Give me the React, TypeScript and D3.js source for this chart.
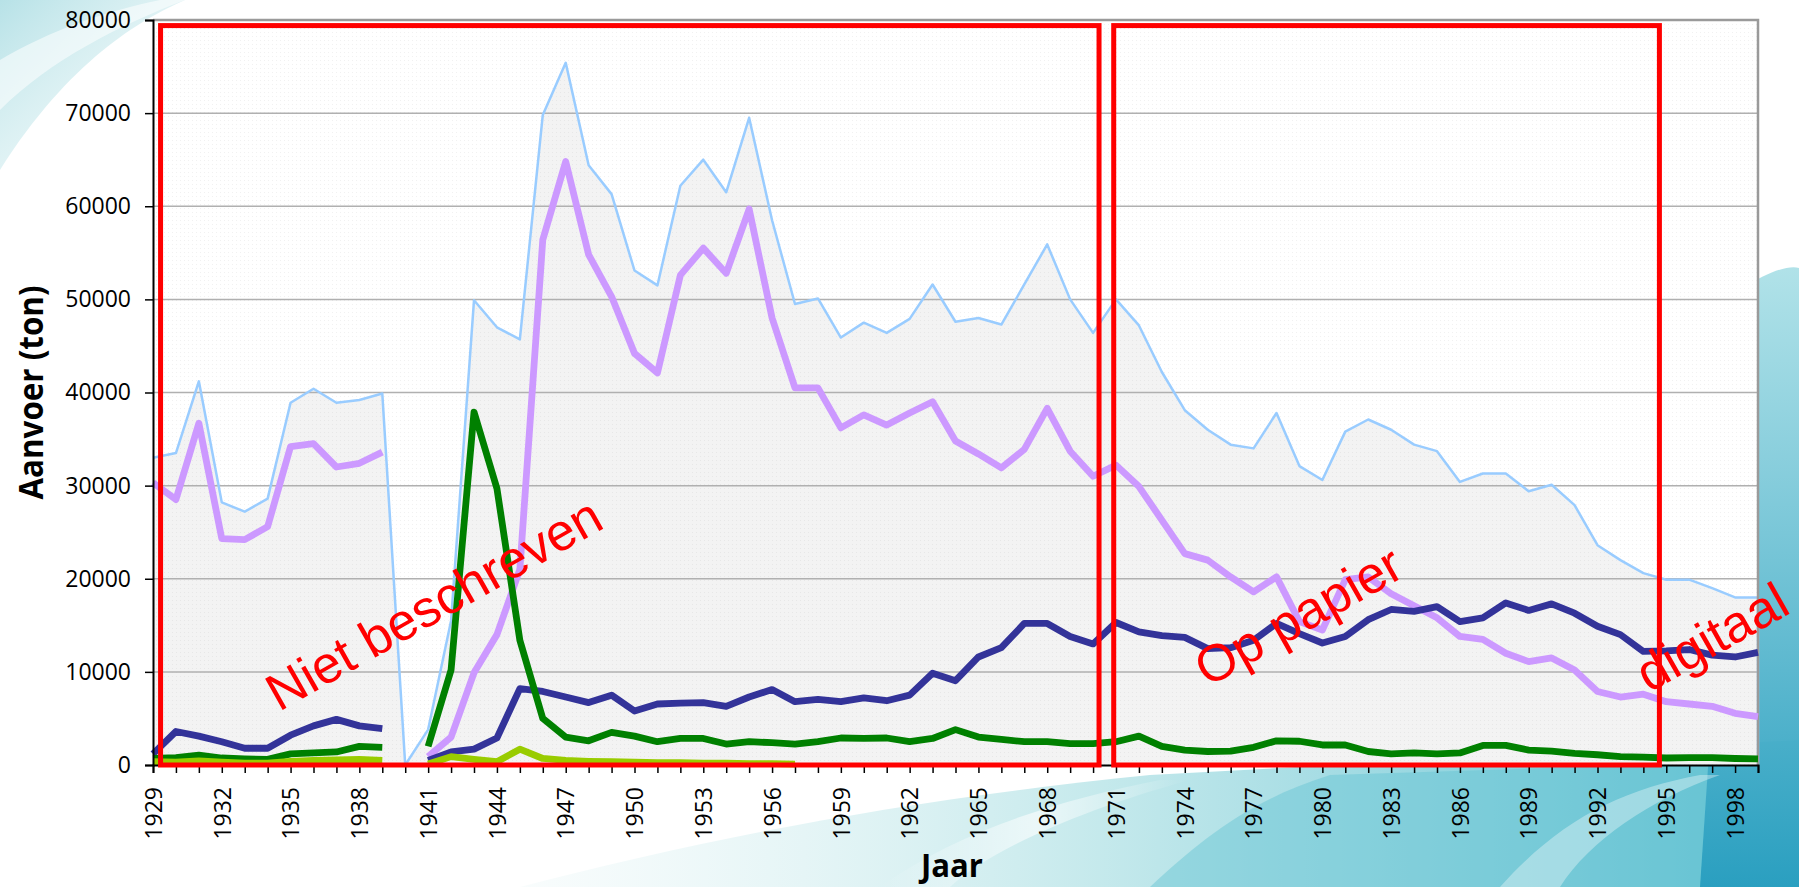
import React, { useEffect, useRef } from "react";
import * as d3 from "d3";

// Aanvoer per jaar (ton), 1929 - 1999. 1940 ontbreekt.
const firstYear = 1929;
const lastYear = 1999;
const years = d3.range(firstYear, lastYear + 1);

const totaal = [
  33000, 33500, 41200, 28200, 27200, 28600, 38900, 40400, 38900, 39200, 39900,
  0, 3800, 15500, 49900, 47000, 45700, 69800, 75400, 64400, 61300,
  53100, 51500, 62200, 65000, 61500, 69500, 58500, 49500, 50100, 45900,
  47500, 46400, 47900, 51600, 47600, 48000, 47300, 51600, 55900, 50000,
  46400, 50000, 47200, 42200, 38100, 36000, 34400, 34000, 37800, 32100,
  30600, 35800, 37100, 36000, 34400, 33700, 30400, 31300, 31300, 29400,
  30100, 27900, 23600, 22000, 20600, 19900, 19900, 19000, 18000, 18000,
];

const paars = [
  30300, 28500, 36700, 24300, 24200, 25600, 34200, 34500, 32000, 32400, 33600,
  null, 900, 3000, 9900, 14000, 21000, 56400, 64800, 54800, 50300,
  44200, 42100, 52600, 55500, 52800, 59700, 48000, 40500, 40500, 36200,
  37600, 36500, 37800, 39000, 34800, 33400, 31900, 33900, 38300, 33700,
  31000, 32200, 29900, 26300, 22700, 22000, 20200, 18600, 20200, 15400,
  14500, 19900, 20200, 18400, 17100, 15800, 13800, 13500, 12000, 11100,
  11500, 10200, 7900, 7300, 7600, 6800, 6550, 6300, 5550, 5200,
];

const donkerblauw = [
  1200, 3600, 3100, 2500, 1800, 1800, 3200, 4200, 4900, 4200, 3900,
  null, 500, 1400, 1700, 2900, 8200, 7900, 7300, 6700, 7500,
  5800, 6550, 6650, 6700, 6300, 7300, 8100, 6800, 7050, 6800,
  7200, 6900, 7500, 9850, 9050, 11600, 12600, 15200, 15200, 13800,
  13000, 15300, 14300, 13900, 13700, 12500, 12600, 13400, 15200, 14100,
  13100, 13800, 15600, 16700, 16500, 17000, 15400, 15800, 17400, 16600,
  17300, 16300, 14900, 14000, 12200, 12250, 12400, 11800, 11600, 12100,
];

const groen = [
  700, 800, 1050, 750, 650, 600, 1200, 1300, 1400, 2000, 1900,
  null, 2000, 10200, 37900, 29700, 13400, 5000, 3000, 2600, 3500,
  3100, 2500, 2850, 2850, 2250, 2500, 2400, 2250, 2500, 2900,
  2850, 2900, 2500, 2850, 3800, 3000, 2750, 2500, 2500, 2300,
  2300, 2500, 3100, 2000, 1600, 1450, 1500, 1900, 2600, 2550,
  2150, 2150, 1450, 1200, 1300, 1200, 1300, 2100, 2100, 1600,
  1500, 1250, 1100, 900, 850, 750, 800, 800, 700, 650,
];

const geelgroen = [
  350, 300, 450, 300, 200, 200, 400, 500, 550, 600, 500,
  null, 100, 900, 600, 350, 1700, 700, 500, 400, 350,
  300, 250, 250, 200, 200, 150, 150, 100, null, null,
  null, null, null, null, null, null, null, null, null, null,
  null, null, null, null, null, null, null, null, null, null,
  null, null, null, null, null, null, null, null, null, null,
  null, null, null, null, null, null, null, null, null, null,
];

const yTicks = [0, 10000, 20000, 30000, 40000, 50000, 60000, 70000, 80000];

// periodes met rode kaders: [van, tot]
const periodes: [number, number][] = [
  [1929.33, 1970.26],
  [1970.9, 1994.7],
];

// labels: [tekst, jaar, waarde] van het beginpunt
const labels: [string, number, number][] = [
  ["Niet beschreven", 1934.5, 5700],
  ["Op papier", 1975.0, 8300],
  ["digitaal", 1994.25, 7700],
];

const W = 1799;
const H = 887;
const margin = { top: 20, right: 41, bottom: 122, left: 153 };

const lines = [
  { values: paars, color: "#cc99ff" },
  { values: donkerblauw, color: "#333399" },
  { values: groen, color: "#008000" },
  { values: geelgroen, color: "#99cc00" },
];

export default function App() {
  const ref = useRef<SVGSVGElement>(null);

  useEffect(() => {
    const svg = d3.select(ref.current);
    svg.selectAll("*").remove();

    const x = d3.scaleLinear().domain([firstYear, lastYear]).range([margin.left, W - margin.right]);
    const y = d3.scaleLinear().domain([0, 80000]).range([H - margin.bottom, margin.top]);
    const [x0, x1] = x.range();
    const [y0, y1] = y.range();

    const defs = svg.append("defs");
    const dots = (id, bg, dot) => {
      const p = defs.append("pattern").attr("id", id).attr("width", 4).attr("height", 4)
        .attr("patternUnits", "userSpaceOnUse");
      p.append("rect").attr("width", 4).attr("height", 4).attr("fill", bg);
      p.append("rect").attr("width", 1).attr("height", 1).attr("fill", dot);
    };
    dots("bgdots", "#ffffff", "#f1f1f1");
    dots("areadots", "#f3f3f3", "#e7e7e7");

    const grad = (id, stops, x2 = "100%", y2 = "0%") => {
      const g = defs.append("linearGradient").attr("id", id)
        .attr("x1", "0%").attr("y1", "0%").attr("x2", x2).attr("y2", y2);
      stops.forEach(([o, c, op]) => g.append("stop").attr("offset", o).attr("stop-color", c).attr("stop-opacity", op));
    };
    grad("tl", [["0%", "#9fd8df", 0.75], ["100%", "#e6f5f6", 0.25]], "100%", "100%");
    grad("bottom", [["0%", "#dff2f3", 0.2], ["45%", "#bfe7ea", 0.9], ["100%", "#5fc0d2", 1]]);
    grad("right", [["0%", "#a8dfe6", 0.9], ["100%", "#2a9fc0", 1]], "0%", "100%");
    grad("streak", [["0%", "#ffffff", 0], ["50%", "#ffffff", 0.6], ["100%", "#ffffff", 0]]);

    // achtergrond decoratie
    const deco = svg.append("g");
    deco.append("path").attr("d", "M0,0 H185 C140,20 70,60 0,170 Z").attr("fill", "url(#tl)");
    deco.append("path").attr("d", "M0,60 C50,30 110,10 160,0 H185 C120,25 50,60 0,110 Z").attr("fill", "#ffffff").attr("opacity", 0.55);
    deco.append("path").attr("d", "M520,887 C700,840 900,800 1150,775 L1799,740 L1799,887 Z").attr("fill", "url(#bottom)");
    deco.append("path").attr("d", "M1150,887 C1200,840 1250,800 1330,775 L1799,760 L1799,887 Z").attr("fill", "#64c3d2").attr("opacity", 0.45);
    deco.append("path").attr("d", "M1740,290 C1770,270 1790,265 1799,268 L1799,887 L1700,887 Z").attr("fill", "url(#right)");
    deco.append("path").attr("d", "M880,887 C960,830 1060,800 1160,780 L1190,780 C1080,810 990,850 950,887 Z").attr("fill", "url(#streak)");
    deco.append("path").attr("d", "M1500,887 C1560,820 1620,790 1700,775 L1720,775 C1650,800 1590,840 1560,887 Z").attr("fill", "#ffffff").attr("opacity", 0.35);

    // plotvlak
    svg.append("rect").attr("x", x0).attr("y", y1).attr("width", x1 - x0).attr("height", y0 - y1)
      .attr("fill", "url(#bgdots)");

    const area = d3.area<number>().x((d, i) => x(years[i])).y0(y(0)).y1(d => y(d));
    svg.append("path").datum(totaal).attr("d", area).attr("fill", "url(#areadots)");

    // rasterlijnen
    svg.append("g").selectAll("line").data(yTicks.filter(t => t > 0 && t < 80000)).join("line")
      .attr("x1", x0).attr("x2", x1).attr("y1", d => y(d)).attr("y2", d => y(d))
      .attr("stroke", "#b0b0b0").attr("stroke-width", 1.5);

    // totaal lijn
    const outline = d3.line<number>().x((d, i) => x(years[i])).y(d => y(d));
    svg.append("path").datum(totaal).attr("d", outline).attr("fill", "none")
      .attr("stroke", "#99ccff").attr("stroke-width", 2.5).attr("stroke-linejoin", "round");
    svg.append("line").attr("x1", x1).attr("x2", x1).attr("y1", y(totaal[totaal.length - 1])).attr("y2", y0)
      .attr("stroke", "#99ccff").attr("stroke-width", 2.5);

    // kader
    svg.append("path").attr("d", `M${x0},${y1} H${x1} V${y0}`).attr("fill", "none")
      .attr("stroke", "#9a9a9a").attr("stroke-width", 2.5);

    const line = d3.line<number | null>()
      .defined(d => d !== null)
      .x((d, i) => x(years[i]))
      .y(d => y(d as number));
    for (const s of lines) {
      svg.append("path").datum(s.values).attr("d", line).attr("fill", "none")
        .attr("stroke", s.color).attr("stroke-width", 6.8)
        .attr("stroke-linejoin", "round");
    }

    // assen
    const yAxis = svg.append("g").attr("transform", `translate(${x0},0)`)
      .call(d3.axisLeft(y).tickValues(yTicks).tickSize(8).tickPadding(14).tickFormat(d3.format("d")));
    const xAxis = svg.append("g").attr("transform", `translate(0,${y0})`)
      .call(d3.axisBottom(x).tickValues(years).tickSize(8).tickPadding(14)
        .tickFormat(d => ((d as number) - firstYear) % 3 === 0 ? String(d) : ""));
    for (const a of [yAxis, xAxis]) {
      a.select(".domain").attr("stroke", "#000").attr("stroke-width", 2);
      a.selectAll(".tick line").attr("stroke", "#000").attr("stroke-width", 1.5);
      a.selectAll("text").attr("font-family", "'Open Sans', sans-serif").attr("font-size", 23).attr("fill", "#000");
    }
    xAxis.selectAll(".tick text")
      .attr("transform", "rotate(-90)").attr("text-anchor", "end")
      .attr("x", -22).attr("y", 0).attr("dy", "0.36em");

    svg.append("text").attr("transform", `translate(43,${(y0 + y1) / 2}) rotate(-90)`)
      .attr("text-anchor", "middle").attr("font-family", "'Open Sans', sans-serif")
      .attr("font-weight", 700).attr("font-size", 34)
      .attr("textLength", 214).attr("lengthAdjust", "spacingAndGlyphs").text("Aanvoer (ton)");
    svg.append("text").attr("x", 952).attr("y", 877)
      .attr("text-anchor", "middle").attr("font-family", "'Open Sans', sans-serif")
      .attr("font-weight", 700).attr("font-size", 33)
      .attr("textLength", 62).attr("lengthAdjust", "spacingAndGlyphs").text("Jaar");

    // rode kaders en labels
    for (const [from, to] of periodes) {
      svg.append("rect").attr("x", x(from)).attr("y", y(79400))
        .attr("width", x(to) - x(from)).attr("height", y(0) - y(79400))
        .attr("fill", "none").attr("stroke", "#ff0000").attr("stroke-width", 5);
    }
    for (const [t, yr, v] of labels) {
      svg.append("text").attr("transform", `translate(${x(yr)},${y(v)}) rotate(-29.5)`)
        .attr("font-family", "'Liberation Sans', Arial, sans-serif").attr("font-size", 52)
        .attr("fill", "#ff0000").text(t);
    }
  }, []);

  return (
    <svg ref={ref} width={W} height={H}
      style={{ position: "absolute", left: 0, top: 0, background: "#ffffff" }} />
  );
}
